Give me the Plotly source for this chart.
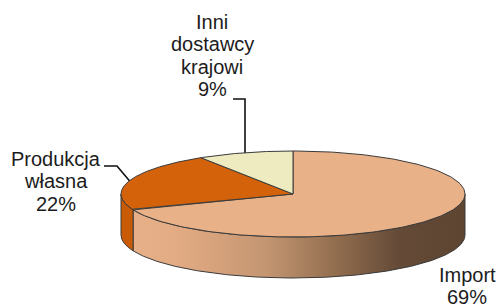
import numpy as np
import plotly.graph_objects as go

# ---- data ----
categories = ["Import", "Produkcja własna", "Inni dostawcy krajowi"]
shares = [69, 22, 9]
label_lines = [["Import", "69%"], ["Produkcja", "własna", "22%"], ["Inni", "dostawcy", "krajowi", "9%"]]

# ---- styling / geometry ----
top_colors = ["#E9B188", "#D3620A", "#EEEBC0"]
side_colors = [None, "#C95B07", "#DCD8AA"]
edge = "#3a3a3a"
CX, CY, RX, RY, DEPTH = 293, 194, 172, 43, 41
FONT = dict(family="Liberation Sans, Arial, sans-serif", size=20, color="#1c1c1c")
LINE_GAP = 22.5
# label anchor (centre x, baseline of first line) per category
label_pos = [(467, 281.5), (56, 165.7), (212, 28.8)]

def pt(theta_deg, dy=0.0):
    t = np.radians(theta_deg)
    return CX + RX * np.sin(t), CY - RY * np.cos(t) + dy

total = float(sum(shares))
bounds = np.concatenate([[0], np.cumsum(shares) / total * 360.0])

fig = go.Figure()

# side walls (visible front half: 90..270 deg clockwise from top)
for i in range(len(shares)):
    a, b = max(bounds[i], 90), min(bounds[i + 1], 270)
    if b <= a:
        continue
    th = np.linspace(a, b, 200)
    xt, yt = pt(th)
    xb, yb = pt(th[::-1], DEPTH)
    xs = np.concatenate([xt, xb, xt[:1]])
    ys = np.concatenate([yt, yb, yt[:1]])
    kw = {}
    if i == 0:
        kw["fillgradient"] = dict(
            type="horizontal",
            colorscale=[[0, "#E8B088"], [0.12, "#E4AC84"], [0.4, "#C49672"],
                        [0.62, "#906C4D"], [0.8, "#644A37"], [1, "#5D4532"]],
        )
        kw["fillcolor"] = "#B08060"
    else:
        kw["fillcolor"] = side_colors[i]
    fig.add_trace(go.Scatter(x=xs, y=ys, mode="lines", fill="toself",
                             line=dict(color=edge, width=1), hoverinfo="skip",
                             showlegend=False, **kw))

# top faces
for i in range(len(shares)):
    th = np.linspace(bounds[i], bounds[i + 1], 200)
    xa, ya = pt(th)
    xs = np.concatenate([[CX], xa, [CX]])
    ys = np.concatenate([[CY], ya, [CY]])
    fig.add_trace(go.Scatter(x=xs, y=ys, mode="lines", fill="toself",
                             fillcolor=top_colors[i], line=dict(color=edge, width=1),
                             hoverinfo="skip", showlegend=False))

# labels
for i, lines in enumerate(label_lines):
    lx, ly = label_pos[i]
    for k, txt in enumerate(lines):
        fig.add_annotation(x=lx, y=ly + k * LINE_GAP - 7, text=txt, showarrow=False,
                           xref="x", yref="y", xanchor="center", yanchor="middle",
                           font=FONT)

# leader lines (to slice mid-angle on the rim)
leaders = {1: (104, 166, 117), 2: (233, 99, 245)}
for i, (x0, y0, x1) in leaders.items():
    mid = (bounds[i] + bounds[i + 1]) / 2
    ex, ey = pt(mid)
    if i == 2:
        xs, ys = [x0, ex, ex], [y0, y0, ey]
    else:
        xs, ys = [x0, x1, ex], [y0, y0, ey]
    fig.add_trace(go.Scatter(x=xs, y=ys, mode="lines", line=dict(color="#111111", width=1.6),
                             hoverinfo="skip", showlegend=False))

fig.update_layout(
    width=500, height=304, margin=dict(l=0, r=0, t=0, b=0),
    paper_bgcolor="white", plot_bgcolor="white",
    xaxis=dict(range=[0, 500], visible=False, fixedrange=True),
    yaxis=dict(range=[304, 0], visible=False, fixedrange=True),
)
fig.write_html("out.html", config={"displayModeBar": False},
               post_script="document.body.style.margin='0';document.body.style.overflow='hidden';")
